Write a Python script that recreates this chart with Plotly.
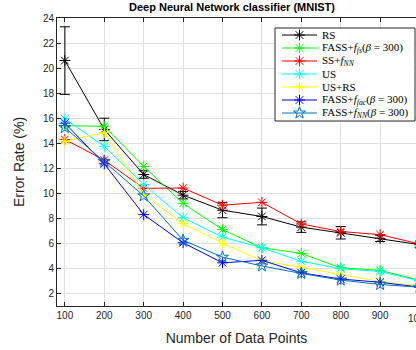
import plotly.graph_objects as go

# ---------------- data ----------------
n_points = [100, 200, 300, 400, 500, 600, 700, 800, 900, 1000]

rs          = [20.6, 15.1, 11.5, 9.85, 8.65, 8.15, 7.3, 6.85, 6.4, 5.9]
rs_err      = [2.7, 0.9, 0.3, 0.3, 0.6, 0.67, 0.42, 0.5, 0.25, 0.2]
fass_ffs    = [15.4, 15.35, 12.15, 9.2, 7.1, 5.65, 5.2, 4.05, 3.85, 3.05]
ss_fnn      = [14.3, 12.65, 10.4, 10.42, 9.05, 9.28, 7.55, 6.95, 6.7, 5.95]
us          = [15.95, 13.75, 10.7, 8.05, 6.5, 5.65, 4.57, 3.98, 3.75, 3.0]
us_rs       = [14.15, 14.85, 9.9, 7.58, 6.02, 4.6, 4.1, 3.5, 2.95, 2.6]
fass_ffac   = [15.6, 12.35, 8.3, 6.05, 4.45, 4.65, 3.65, 3.15, 2.9, 2.5]
fass_fnn    = [15.25, 12.55, 9.8, 6.25, 4.9, 4.2, 3.6, 3.07, 2.72, 2.5]

series_names = [
    "RS",
    "FASS+<i>f<sub>fs</sub></i>(<i>β</i> = 300)",
    "SS+<i>f<sub>NN</sub></i>",
    "US",
    "US+RS",
    "FASS+<i>f<sub>fac</sub></i>(<i>β</i> = 300)",
    "FASS+<i>f<sub>NN</sub></i>(<i>β</i> = 300)",
]
series_values = [rs, fass_ffs, ss_fnn, us, us_rs, fass_ffac, fass_fnn]
series_colors = ["#000000", "#00ff00", "#ff0000", "#00ffff", "#ffff00", "#0000ff", "#0072bd"]
series_symbols = ["asterisk-open"] * 6 + ["star-open"]

x_ticks = [100, 200, 300, 400, 500, 600, 700, 800, 900, 1000]
y_ticks = [2, 4, 6, 8, 10, 12, 14, 16, 18, 20, 22, 24]

# ---------------- layout constants ----------------
W, H = 416, 350
ML, MR, MT, MB = 57, 0, 18, 44
X_RANGE = [80, 991]
Y_RANGE = [1, 24]
TXT = "#262626"
GRID = "#dfdfdf"
SANS = "Liberation Sans, Arial, Helvetica, sans-serif"
SERIF = "Liberation Serif, Times New Roman, serif"

fig = go.Figure()

for i, (name, vals, col, sym) in enumerate(zip(series_names, series_values, series_colors, series_symbols)):
    kw = {}
    if i == 0:
        kw["error_y"] = dict(type="data", array=rs_err, visible=True,
                             color="#000000", thickness=1, width=5)
    fig.add_trace(go.Scatter(
        x=n_points, y=vals, mode="lines+markers", name=name,
        line=dict(color=col, width=1),
        marker=dict(symbol=sym, size=9, color=col, line=dict(color=col, width=1)),
        showlegend=False, cliponaxis=True, **kw))

# ---------------- custom legend (matlab-style compact) ----------------
pw = W - ML - MR
ph = H - MT - MB
def px2x(px):
    return (px - ML) / pw
def py2y(py):
    return (H - MB - py) / ph

leg_left, leg_right, leg_top, leg_bot = 275, 415, 28, 121
row0, row_step = 35, 13
line_x0, line_x1, text_x = 282, 317, 320

lx0, lx1, ly0, ly1 = px2x(leg_left), px2x(leg_right), py2y(leg_bot), py2y(leg_top)
fig.add_trace(go.Scatter(
    x=[lx0, lx1, lx1, lx0, lx0], y=[ly0, ly0, ly1, ly1, ly0], mode="lines",
    fill="toself", fillcolor="white", line=dict(color=TXT, width=1),
    xaxis="x2", yaxis="y2", showlegend=False, hoverinfo="skip"))

for i, (name, col, sym) in enumerate(zip(series_names, series_colors, series_symbols)):
    yy = py2y(row0 + row_step * i)
    fig.add_trace(go.Scatter(
        x=[px2x(line_x0), px2x(line_x1)], y=[yy, yy], mode="lines",
        line=dict(color=col, width=1), xaxis="x2", yaxis="y2",
        showlegend=False, hoverinfo="skip"))
    fig.add_trace(go.Scatter(
        x=[px2x((line_x0 + line_x1) / 2)], y=[yy], mode="markers",
        marker=dict(symbol=sym, size=9, color=col, line=dict(color=col, width=1)),
        xaxis="x2", yaxis="y2", showlegend=False, hoverinfo="skip"))
    fig.add_annotation(xref="paper", yref="paper", x=px2x(text_x), y=yy,
                       xanchor="left", yanchor="middle", showarrow=False,
                       text=name, font=dict(family=SERIF, size=11, color="#000000"))

# partially visible last tick label (axis extends past the window)
fig.add_annotation(xref="paper", yref="paper",
                   x=(x_ticks[-1] - X_RANGE[0]) / (X_RANGE[1] - X_RANGE[0]), y=0,
                   xanchor="center", yanchor="top", yshift=-5, showarrow=False,
                   text=str(x_ticks[-1]), font=dict(family=SANS, size=10, color=TXT))

fig.update_layout(
    width=W, height=H,
    margin=dict(l=ML, r=MR, t=MT, b=MB, pad=0),
    paper_bgcolor="white", plot_bgcolor="white",
    title=dict(text="<b>Deep Neural Network classifier (MNIST)</b>",
               x=232 / W, xref="container", xanchor="center",
               y=1 - 7 / H, yref="container", yanchor="middle",
               font=dict(family=SANS, size=11, color="#000000")),
    xaxis=dict(range=X_RANGE, tickvals=x_ticks, ticktext=[str(v) for v in x_ticks],
               showgrid=True, gridcolor=GRID, gridwidth=1, zeroline=False,
               showline=True, linecolor=TXT, linewidth=1, mirror="ticks",
               ticks="inside", ticklen=4, tickcolor=TXT,
               tickfont=dict(family=SANS, size=10, color=TXT),
               title=dict(text="Number of Data Points", standoff=13,
                          font=dict(family=SANS, size=14, color=TXT)),
               automargin=False),
    yaxis=dict(range=Y_RANGE, tickvals=y_ticks,
               showgrid=True, gridcolor=GRID, gridwidth=1, zeroline=False,
               showline=True, linecolor=TXT, linewidth=1, mirror=False,
               ticks="inside", ticklen=4, tickcolor=TXT,
               tickfont=dict(family=SANS, size=10, color=TXT),
               title=dict(text="Error Rate (%)", standoff=14,
                          font=dict(family=SANS, size=14, color=TXT)),
               automargin=False),
    xaxis2=dict(range=[0, 1], overlaying="x", anchor="y2", visible=False),
    yaxis2=dict(range=[0, 1], overlaying="y", anchor="x2", visible=False),
    showlegend=False,
)

fig.write_html("out.html", config={"displayModeBar": False},
               post_script="document.body.style.margin='0px';")
